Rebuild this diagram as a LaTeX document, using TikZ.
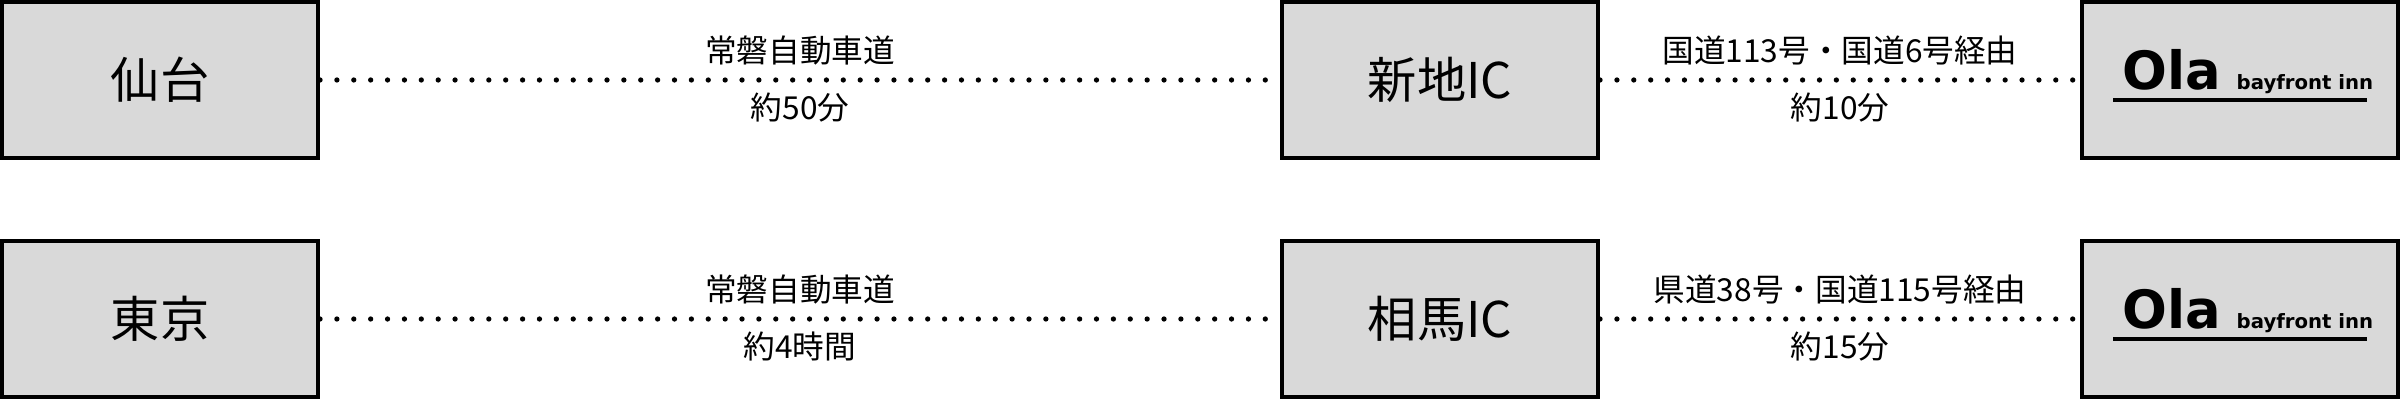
\documentclass[tikz,border=0pt]{standalone}
\usepackage{fontspec}
\newfontfamily\jp{Noto Sans CJK JP}
\newfontfamily\logo{DejaVu Sans}
\begin{document}
\begin{tikzpicture}[x=0.01cm,y=0.01cm,
  bx/.style={draw=black,line width=1.1pt,fill={rgb,255:red,217;green,217;blue,217},minimum width=3.16cm,minimum height=1.56cm,inner sep=0pt,font=\jp\fontsize{14}{14}\selectfont},
  dot/.style={line width=1.5pt,line cap=round,dash pattern=on 0pt off 4.8pt},
  lab/.style={font=\jp\fontsize{9}{10}\selectfont,inner sep=0pt},
  lg/.style={anchor=base west,inner sep=0pt,font=\logo\bfseries\fontsize{#1}{#1}\selectfont}]
\useasboundingbox (0,0) rectangle (2400,400);
\node[bx] (a1) at (160,320) {仙台};
\node[bx] (b1) at (1440,320) {新地IC};
\node[bx] (c1) at (2240,320) {};
\node[bx] (a2) at (160,81) {東京};
\node[bx] (b2) at (1440,81) {相馬IC};
\node[bx] (c2) at (2240,81) {};
\draw[dot] (a1.east) -- (b1.west) node[midway,above=3.5pt,lab]{常磐自動車道} node[midway,below=3pt,lab]{約50分};
\draw[dot] (b1.east) -- (c1.west) node[midway,above=3.5pt,lab]{国道113号・国道6号経由} node[midway,below=3pt,lab]{約10分};
\draw[dot] (a2.east) -- (b2.west) node[midway,above=3.5pt,lab]{常磐自動車道} node[midway,below=3pt,lab]{約4時間};
\draw[dot] (b2.east) -- (c2.west) node[midway,above=3.5pt,lab]{県道38号・国道115号経由} node[midway,below=3pt,lab]{約15分};
\foreach \c/\yy in {c1/320,c2/81}{
  \node[lg=15] (\c t) at (2122,\yy-10) {Ola};
  \node[lg=5.6] (\c s) at (2236,\yy-10) {bayfront inn};
  \draw[line width=1.2pt] (2113,\yy-20) -- (2367,\yy-20);
}
\end{tikzpicture}
\end{document}
